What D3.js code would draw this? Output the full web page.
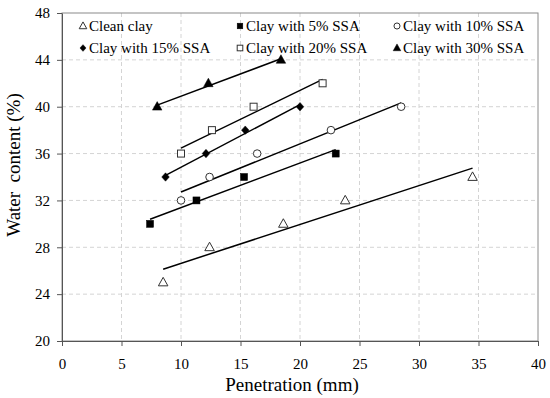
<!DOCTYPE html>
<html><head><meta charset="utf-8">
<script src="https://cdn.jsdelivr.net/npm/d3@7"></script>
</head><body style="margin:0;background:#fff">
<svg id="c" width="550" height="398" font-family="Liberation Serif" style="display:block"></svg>
<script>
const seriesNames = ["Clean clay","Clay with 5% SSA","Clay with 10% SSA","Clay with 15% SSA","Clay with 20% SSA","Clay with 30% SSA"];
const cleanX = [8.5,12.4,18.6,23.8,34.5], cleanY = [25,28,30,32,34];
const ssa5X = [7.4,11.3,15.3,23.0], ssa5Y = [30,32,34,36];
const ssa10X = [10.0,12.4,16.4,22.6,28.5], ssa10Y = [32,34,36,38,40];
const ssa15X = [8.7,12.1,15.4,20.0], ssa15Y = [34,36,38,40];
const ssa20X = [10.0,12.6,16.1,21.9], ssa20Y = [36,38,40,42];
const ssa30X = [8.0,12.3,18.4], ssa30Y = [40,42,44];
const xTicks = [0,5,10,15,20,25,30,35,40];
const yTicks = [20,24,28,32,36,40,44,48];

const series = [
  {name:seriesNames[0], x:cleanX, y:cleanY, shape:"tri", fill:false},
  {name:seriesNames[1], x:ssa5X, y:ssa5Y, shape:"sq", fill:true},
  {name:seriesNames[2], x:ssa10X, y:ssa10Y, shape:"circ", fill:false},
  {name:seriesNames[3], x:ssa15X, y:ssa15Y, shape:"dia", fill:true},
  {name:seriesNames[4], x:ssa20X, y:ssa20Y, shape:"sq", fill:false},
  {name:seriesNames[5], x:ssa30X, y:ssa30Y, shape:"tri", fill:true}
];

const FONT = "Liberation Serif";
const svg = d3.select("#c");
const L=62, R=538, T=13, B=341;
const x = d3.scaleLinear().domain([0,40]).range([L,R]);
const y = d3.scaleLinear().domain([20,48]).range([B,T]);

// grid
const g = svg.append("g");
g.selectAll(".gx").data(xTicks.slice(1,-1)).enter().append("line")
  .attr("x1",d=>x(d)).attr("x2",d=>x(d)).attr("y1",T).attr("y2",B)
  .attr("stroke","#d4d4d4").attr("stroke-dasharray","4,3").attr("stroke-width",1);
g.selectAll(".gy").data(yTicks.slice(1,-1)).enter().append("line")
  .attr("x1",L).attr("x2",R).attr("y1",d=>y(d)).attr("y2",d=>y(d))
  .attr("stroke","#d4d4d4").attr("stroke-dasharray","4,3").attr("stroke-width",1);
// frame
svg.append("rect").attr("x",L).attr("y",T).attr("width",R-L).attr("height",B-T)
  .attr("fill","none").attr("stroke","#8a8a8a").attr("stroke-width",1);

// axes
const xa = svg.append("g").attr("transform",`translate(0,${B})`)
  .call(d3.axisBottom(x).tickValues(xTicks).tickSize(5).tickPadding(12).tickSizeOuter(0));
const ya = svg.append("g").attr("transform",`translate(${L},0)`)
  .call(d3.axisLeft(y).tickValues(yTicks).tickSize(5).tickPadding(7).tickSizeOuter(0));
[xa,ya].forEach(a=>{
  a.attr("font-family",FONT).attr("font-size",15);
  a.selectAll("path").attr("stroke","#555");
  a.selectAll("line").attr("stroke","#555");
  a.selectAll("text").attr("font-size",15).attr("font-family",FONT).attr("fill","#000");
});

svg.append("text").attr("x",292).attr("y",391).attr("text-anchor","middle")
  .attr("font-family",FONT).attr("font-size",19).text("Penetration (mm)");
svg.append("text").attr("transform","translate(20,165) rotate(-90)").attr("text-anchor","middle")
  .attr("font-family",FONT).attr("font-size",19).attr("xml:space","preserve").text("Water  content (%)");

// trend lines (least squares fit)
function fit(xs,ys){
  const mx=d3.mean(xs), my=d3.mean(ys);
  const sxy=d3.sum(xs.map((v,i)=>(v-mx)*(ys[i]-my)));
  const sxx=d3.sum(xs.map(v=>(v-mx)*(v-mx)));
  const b=sxy/sxx, a=my-b*mx;
  const x0=d3.min(xs), x1=d3.max(xs);
  return [[x0,a+b*x0],[x1,a+b*x1]];
}
const line = d3.line().x(d=>x(d[0])).y(d=>y(d[1]));
series.forEach(s=>{
  svg.append("path").attr("d",line(fit(s.x,s.y))).attr("stroke","#000").attr("stroke-width",1.5).attr("fill","none");
});

function marker(sel, shape, fill, k){
  let el;
  if(shape==="tri"){
    const w=9.5*k, h=8.5*k;
    el = sel.append("path").attr("d",`M0,${-h*0.6}L${w/2},${h*0.4}L${-w/2},${h*0.4}Z`);
  } else if(shape==="sq"){
    const s=7*k;
    el = sel.append("rect").attr("x",-s/2).attr("y",-s/2).attr("width",s).attr("height",s);
  } else if(shape==="circ"){
    el = sel.append("circle").attr("r",3.8*k);
  } else {
    const s=4.2*k;
    el = sel.append("path").attr("d",`M0,${-s}L${s*0.9},0L0,${s}L${-s*0.9},0Z`);
  }
  el.attr("fill",fill?"#000":"#fff").attr("stroke",fill?"#000":"#333").attr("stroke-width",fill?0.5:1);
}

series.forEach(s=>{
  s.x.forEach((xv,i)=>{
    const m = svg.append("g").attr("transform",`translate(${x(xv)},${y(s.y[i])})`);
    marker(m, s.shape, s.fill, 1);
  });
});

// legend
const legCols=[83,240,397], legRows=[26,48];
series.forEach((s,i)=>{
  const cx=legCols[i%3], cy=legRows[Math.floor(i/3)];
  const m = svg.append("g").attr("transform",`translate(${cx},${cy})`);
  marker(m, s.shape, s.fill, 0.8);
  svg.append("text").attr("x",cx+6).attr("y",cy+5).attr("font-family",FONT).attr("font-size",15).text(s.name);
});
</script>
</body></html>
